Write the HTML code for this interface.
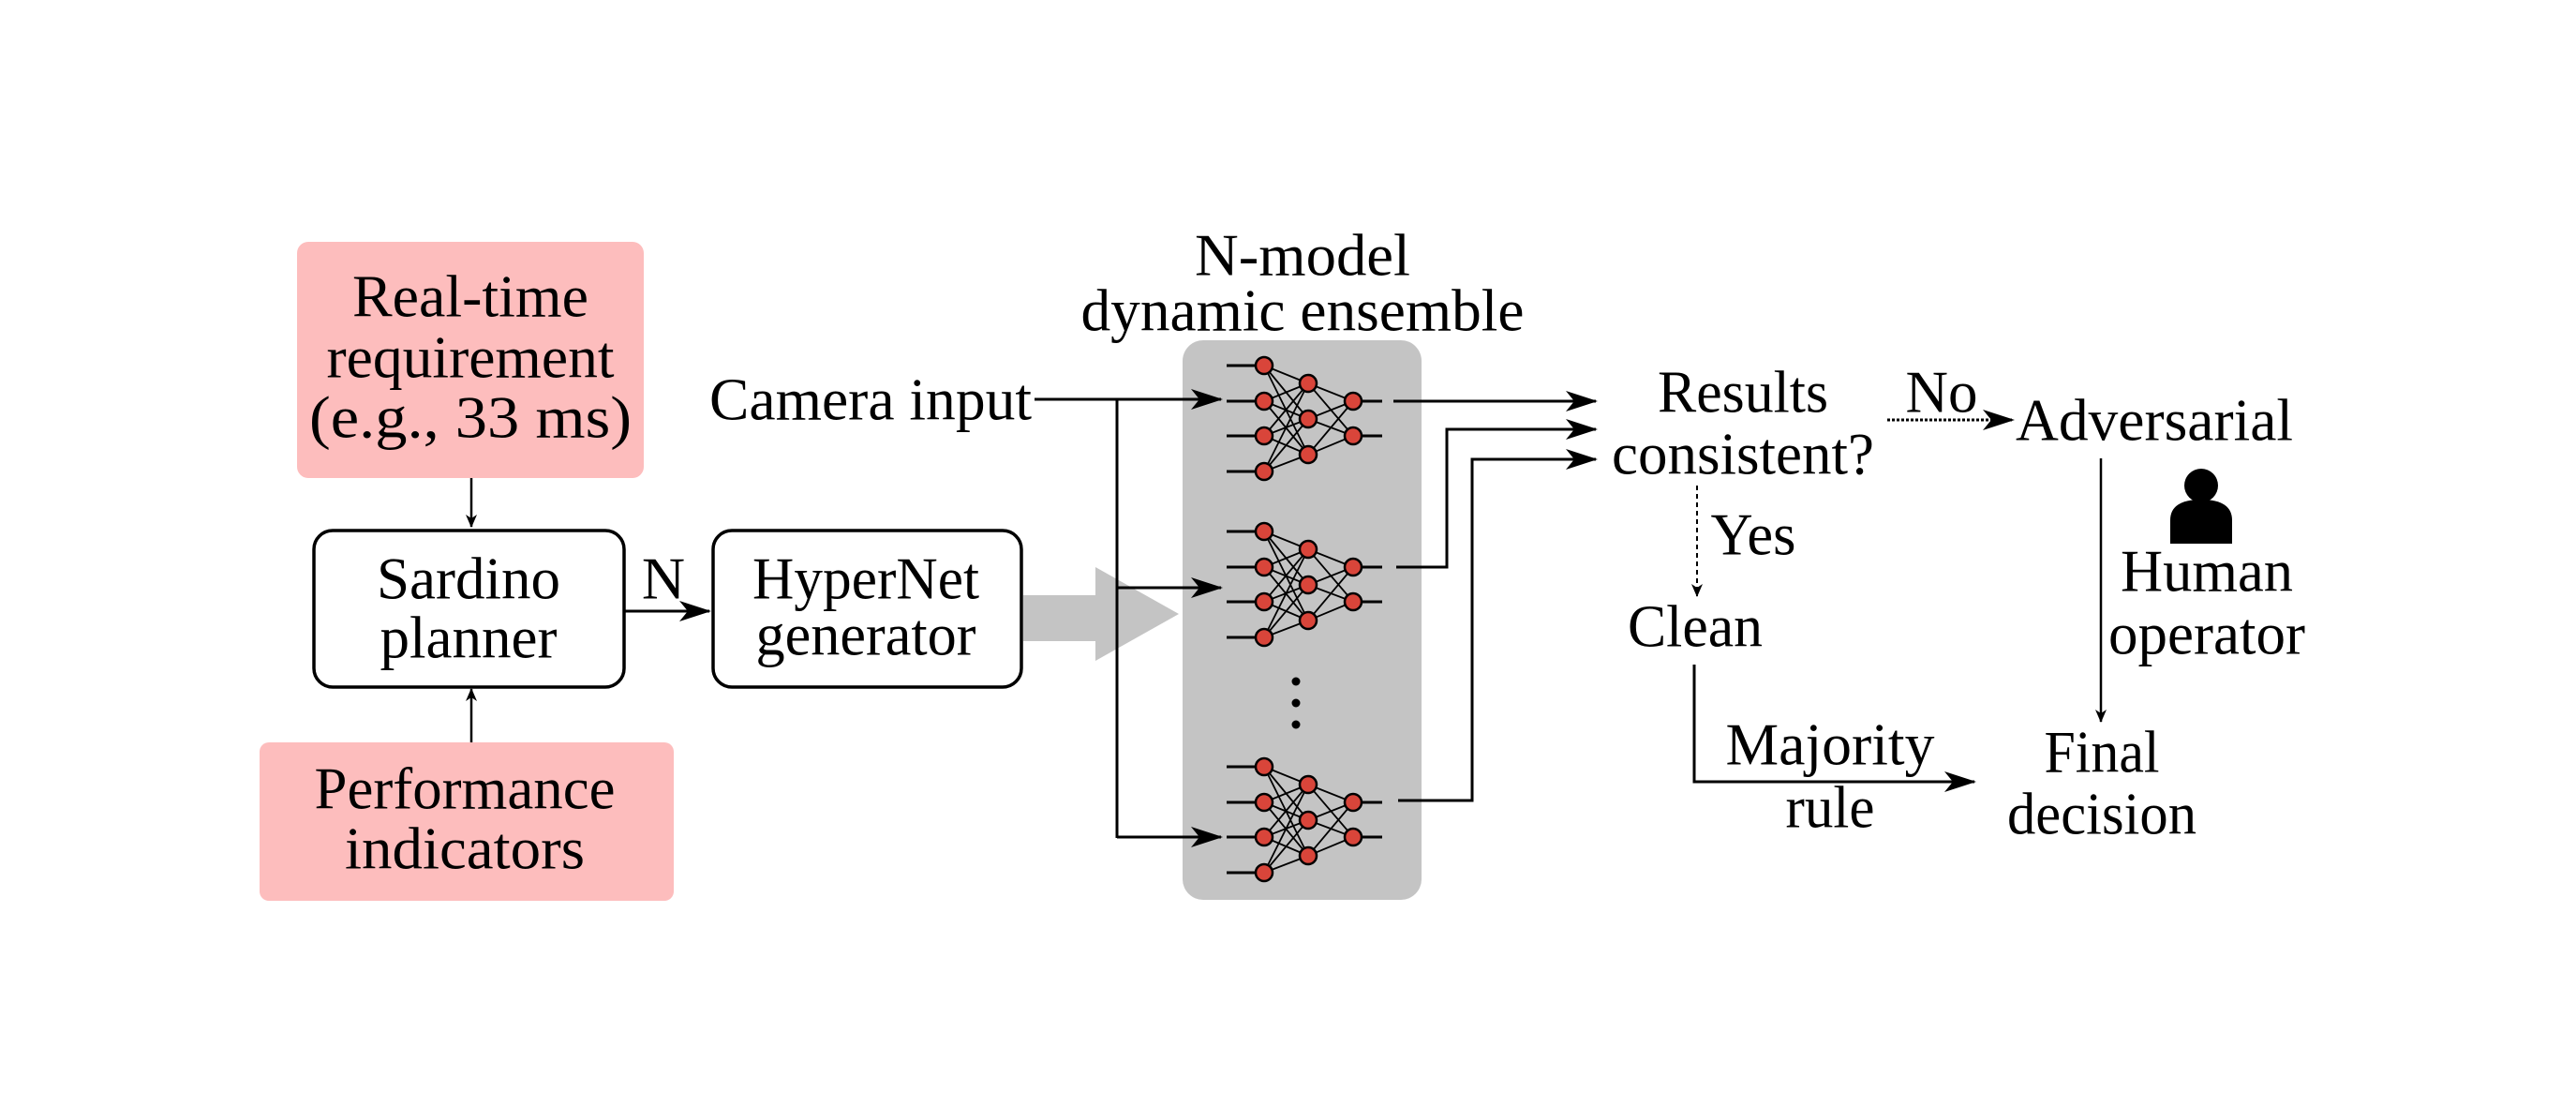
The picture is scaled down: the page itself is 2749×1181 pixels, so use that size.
<!DOCTYPE html>
<html><head><meta charset="utf-8"><style>
html,body{margin:0;padding:0;background:#fff}
svg{display:block}
text{font-family:"Liberation Serif",serif;font-size:64px;fill:#000;text-anchor:middle;dominant-baseline:central}
</style></head><body>
<svg width="2749" height="1181" viewBox="0 0 2749 1181" xmlns="http://www.w3.org/2000/svg">
<defs>
<marker id="ah" markerWidth="14" markerHeight="12" refX="13" refY="6" orient="auto" markerUnits="userSpaceOnUse">
<path d="M0,0 L14,6 L0,12 L4,6 Z" fill="#000"/></marker>
<marker id="ahb" markerWidth="34" markerHeight="22" refX="32" refY="11" orient="auto" markerUnits="userSpaceOnUse">
<path d="M0,0 L34,11 L0,22 L9,11 Z" fill="#000"/></marker>
<g id="net">
<g stroke="#000" stroke-width="3">
<line x1="1309" y1="0" x2="1349" y2="0"/><line x1="1309" y1="38" x2="1349" y2="38"/>
<line x1="1309" y1="75" x2="1349" y2="75"/><line x1="1309" y1="113" x2="1349" y2="113"/>
<line x1="1444" y1="38" x2="1475" y2="38"/><line x1="1444" y1="75" x2="1475" y2="75"/>
</g>
<g stroke="#000" stroke-width="1.8">
<path d="M1349,0L1396,19M1349,0L1396,57M1349,0L1396,95M1349,38L1396,19M1349,38L1396,57M1349,38L1396,95M1349,75L1396,19M1349,75L1396,57M1349,75L1396,95M1349,113L1396,19M1349,113L1396,57M1349,113L1396,95M1396,19L1444,38M1396,19L1444,75M1396,57L1444,38M1396,57L1444,75M1396,95L1444,38M1396,95L1444,75"/>
</g>
<g fill="#d9453a" stroke="#000" stroke-width="2.5">
<circle cx="1349" cy="0" r="9"/><circle cx="1349" cy="38" r="9"/><circle cx="1349" cy="75" r="9"/><circle cx="1349" cy="113" r="9"/>
<circle cx="1396" cy="19" r="9"/><circle cx="1396" cy="57" r="9"/><circle cx="1396" cy="95" r="9"/>
<circle cx="1444" cy="38" r="9"/><circle cx="1444" cy="75" r="9"/>
</g>
</g>
</defs>

<rect x="317" y="258" width="370" height="252" rx="12" fill="#fdbdbd"/>
<text x="502" y="316" textLength="252" lengthAdjust="spacingAndGlyphs">Real-time</text>
<text x="502" y="381" textLength="307" lengthAdjust="spacingAndGlyphs">requirement</text>
<text x="502" y="445" textLength="344" lengthAdjust="spacingAndGlyphs">(e.g., 33 ms)</text>
<line x1="503" y1="510" x2="503" y2="562" stroke="#000" stroke-width="2.5" marker-end="url(#ah)"/>

<rect x="335" y="566" width="331" height="167" rx="20" fill="#fff" stroke="#000" stroke-width="3.5"/>
<text x="500" y="617" textLength="196" lengthAdjust="spacingAndGlyphs">Sardino</text>
<text x="500" y="680" textLength="189" lengthAdjust="spacingAndGlyphs">planner</text>
<line x1="503" y1="792" x2="503" y2="735" stroke="#000" stroke-width="2.5" marker-end="url(#ah)"/>

<rect x="277" y="792" width="442" height="169" rx="10" fill="#fdbdbd"/>
<text x="496" y="841" textLength="321" lengthAdjust="spacingAndGlyphs">Performance</text>
<text x="496" y="905" textLength="256" lengthAdjust="spacingAndGlyphs">indicators</text>

<line x1="666" y1="652" x2="757" y2="652" stroke="#000" stroke-width="3" marker-end="url(#ahb)"/>
<text x="708" y="617">N</text>

<rect x="761" y="566" width="329" height="167" rx="20" fill="#fff" stroke="#000" stroke-width="3.5"/>
<text x="924" y="617" textLength="242" lengthAdjust="spacingAndGlyphs">HyperNet</text>
<text x="924" y="677" textLength="235" lengthAdjust="spacingAndGlyphs">generator</text>

<rect x="1262" y="363" width="255" height="597" rx="22" fill="#c4c4c4"/>
<path d="M1092,635 L1169,635 L1169,605 L1258,655 L1169,705 L1169,684 L1092,684 Z" fill="#c4c4c4"/>
<text x="1390" y="272" textLength="230" lengthAdjust="spacingAndGlyphs">N-model</text>
<text x="1390" y="331" textLength="473" lengthAdjust="spacingAndGlyphs">dynamic ensemble</text>

<text x="929" y="426" textLength="344" lengthAdjust="spacingAndGlyphs">Camera input</text>
<g stroke="#000" stroke-width="3" fill="none">
<line x1="1104" y1="426" x2="1303" y2="426" marker-end="url(#ahb)"/>
<line x1="1192" y1="426" x2="1192" y2="894"/>
<line x1="1192" y1="627" x2="1303" y2="627" marker-end="url(#ahb)"/>
<line x1="1192" y1="893" x2="1303" y2="893" marker-end="url(#ahb)"/>
</g>
<use href="#net" transform="translate(0,390)"/>
<use href="#net" transform="translate(0,567)"/>
<use href="#net" transform="translate(0,818)"/>
<circle cx="1383" cy="727" r="4.5" fill="#000"/>
<circle cx="1383" cy="750" r="4.5" fill="#000"/>
<circle cx="1383" cy="773" r="4.5" fill="#000"/>

<g stroke="#000" stroke-width="3" fill="none">
<line x1="1487" y1="428" x2="1703" y2="428" marker-end="url(#ahb)"/>
<polyline points="1490,605 1544,605 1544,458 1703,458" marker-end="url(#ahb)"/>
<polyline points="1492,854 1571,854 1571,490 1703,490" marker-end="url(#ahb)"/>
</g>

<text x="1860" y="418" textLength="182" lengthAdjust="spacingAndGlyphs">Results</text>
<text x="1860" y="484" textLength="280" lengthAdjust="spacingAndGlyphs">consistent?</text>
<text x="2072" y="418" textLength="77" lengthAdjust="spacingAndGlyphs">No</text>
<line x1="2014" y1="448" x2="2148" y2="448" stroke="#000" stroke-width="3" stroke-dasharray="3,2" marker-end="url(#ahb)"/>
<text x="2299" y="448" textLength="296" lengthAdjust="spacingAndGlyphs">Adversarial</text>

<line x1="1811" y1="518" x2="1811" y2="636" stroke="#000" stroke-width="2" stroke-dasharray="5,4" marker-end="url(#ah)"/>
<text x="1871" y="570" textLength="91" lengthAdjust="spacingAndGlyphs">Yes</text>
<text x="1809" y="668" textLength="144" lengthAdjust="spacingAndGlyphs">Clean</text>

<line x1="2242" y1="489" x2="2242" y2="770" stroke="#000" stroke-width="2.5" marker-end="url(#ah)"/>
<circle cx="2349" cy="518" r="18" fill="#000"/>
<path d="M2316,580 L2316,555 Q2316,533 2349,533 Q2382,533 2382,555 L2382,580 Z" fill="#000"/>
<text x="2355" y="609" textLength="184" lengthAdjust="spacingAndGlyphs">Human</text>
<text x="2355" y="676" textLength="210" lengthAdjust="spacingAndGlyphs">operator</text>

<polyline points="1808,709 1808,834 2107,834" stroke="#000" stroke-width="3" fill="none" marker-end="url(#ahb)"/>
<text x="1953" y="794" textLength="223" lengthAdjust="spacingAndGlyphs">Majority</text>
<text x="1953" y="861" textLength="95" lengthAdjust="spacingAndGlyphs">rule</text>
<text x="2243" y="802" textLength="123" lengthAdjust="spacingAndGlyphs">Final</text>
<text x="2243" y="868" textLength="202" lengthAdjust="spacingAndGlyphs">decision</text>
</svg>
</body></html>
